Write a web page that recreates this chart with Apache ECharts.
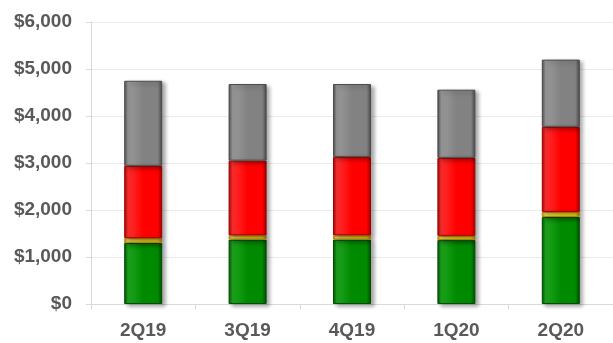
<!DOCTYPE html>
<html>
<head>
<meta charset="utf-8">
<script src="https://cdn.jsdelivr.net/npm/echarts@6/dist/echarts.min.js"></script>
<style>
  html, body { margin: 0; padding: 0; background: #fff; }
  #chart { width: 613px; height: 343px; }
</style>
</head>
<body>
<div id="chart"></div>
<script>
// Quarterly totals, split into four stacked components
const quarters = ['2Q19', '3Q19', '4Q19', '1Q20', '2Q20'];
const greenPart  = [1300, 1370, 1370, 1360, 1850];
const yellowPart = [100, 90, 90, 90, 110];
const redPart    = [1540, 1590, 1670, 1660, 1810];
const grayPart   = [1810, 1630, 1550, 1450, 1430];
const yTicks = [0, 1000, 2000, 3000, 4000, 5000, 6000];

// Bevelled look: darker edges, brighter face
function bevel(edge, face, light) {
  return {
    type: 'linear', x: 0, y: 0, x2: 1, y2: 0,
    colorStops: [
      { offset: 0, color: edge },
      { offset: 0.1, color: light },
      { offset: 0.5, color: face },
      { offset: 0.88, color: face },
      { offset: 1, color: edge }
    ]
  };
}

function segment(name, data, edge, face, light) {
  return {
    name: name,
    type: 'bar',
    stack: 'total',
    barWidth: 38,
    data: data,
    itemStyle: {
      color: bevel(edge, face, light),
      borderColor: edge,
      borderWidth: 1,
      shadowColor: 'rgba(0,0,0,0.35)',
      shadowBlur: 4,
      shadowOffsetX: 3,
      shadowOffsetY: 2
    }
  };
}

const labelFont = {
  color: '#595959',
  fontFamily: 'Liberation Sans, Arial, sans-serif',
  fontWeight: 'bold',
  fontSize: 19
};

const chart = echarts.init(document.getElementById('chart'));
chart.setOption({
  animation: false,
  grid: { left: 91, right: 0, top: 22, bottom: 39 },
  xAxis: {
    type: 'category',
    data: quarters,
    axisLine: { lineStyle: { color: '#d9d9d9' } },
    axisTick: { show: true, length: 5, lineStyle: { color: '#d9d9d9' } },
    axisLabel: Object.assign({ margin: 17 }, labelFont)
  },
  yAxis: {
    type: 'value',
    min: yTicks[0],
    max: yTicks[yTicks.length - 1],
    interval: 1000,
    axisLine: { show: true, lineStyle: { color: '#d9d9d9' } },
    axisTick: { show: true, length: 5, lineStyle: { color: '#d9d9d9' } },
    splitLine: { lineStyle: { color: '#ebebeb' } },
    axisLabel: Object.assign({
      margin: 19,
      formatter: v => '$' + v.toLocaleString('en-US')
    }, labelFont)
  },
  series: [
    segment('green', greenPart, '#004d00', '#008a00', '#1fa51f'),
    segment('yellow', yellowPart, '#b88a00', '#f2d21a', '#f7e060'),
    segment('red', redPart, '#a00000', '#ff0000', '#ff3030'),
    segment('gray', grayPart, '#4a4a4a', '#828282', '#9a9a9a')
  ]
});
</script>
</body>
</html>
